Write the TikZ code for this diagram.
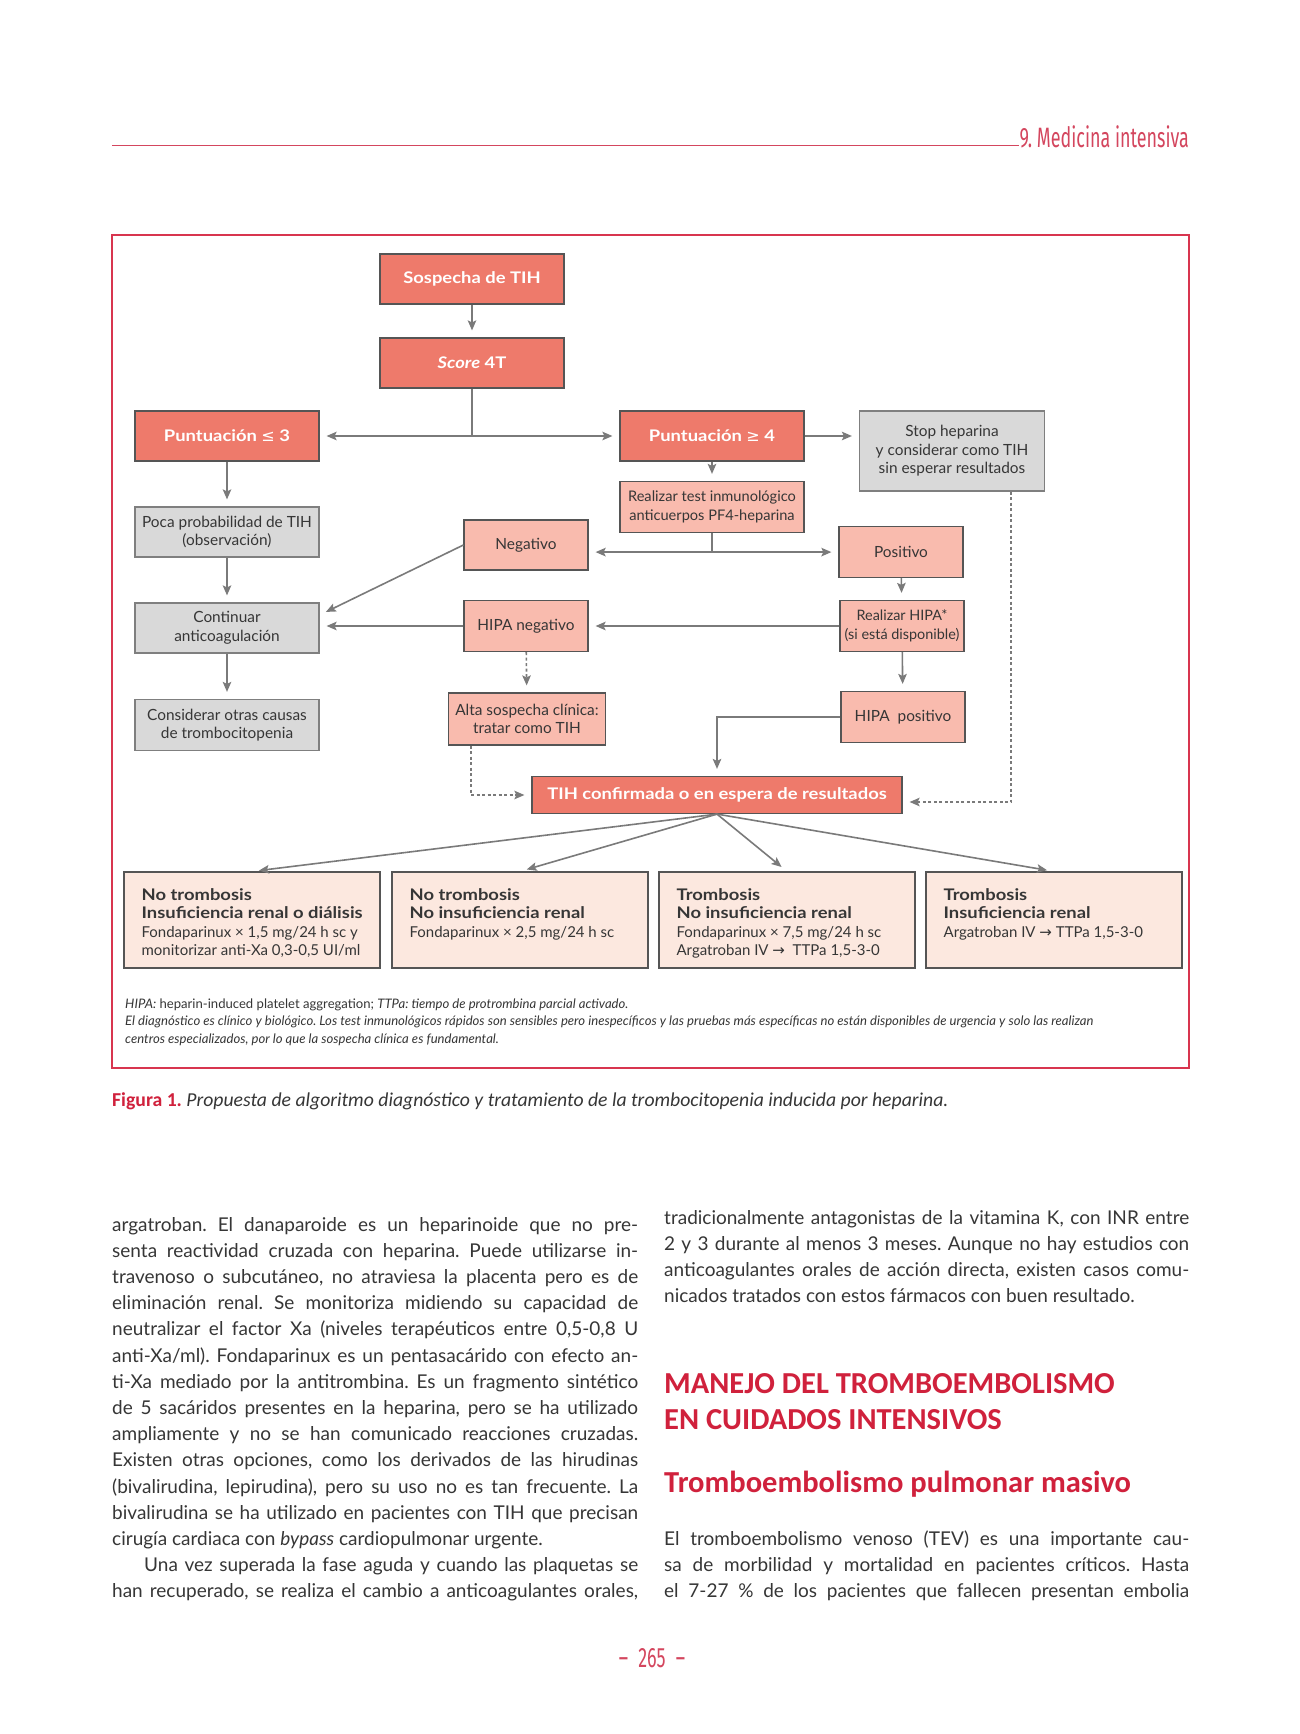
\documentclass[tikz,border=0pt]{standalone}
\usepackage{fontspec}
\setmainfont{Lato}
\newfontfamily\heavy{Lato}[FakeStretch=1.15]
\newfontfamily\capfont{Carlito}
\newfontfamily\symfont{DejaVu Sans}
\newfontfamily\runfont{Fira Sans}
\usetikzlibrary{arrows.meta,calc}
\definecolor{framered}{HTML}{D8354F}
\definecolor{headred}{HTML}{D0213C}
\definecolor{runred}{HTML}{D4465E}
\definecolor{hotfill}{HTML}{EE7A6B}
\definecolor{softfill}{HTML}{F9BBAE}
\definecolor{palefill}{HTML}{D9D9D9}
\definecolor{planfill}{HTML}{FCE8DF}
\definecolor{boxedge}{HTML}{555555}
\definecolor{paleedge}{HTML}{7F7F7F}
\definecolor{linkgrey}{HTML}{7A7A7A}
\definecolor{ink}{HTML}{363636}
\frenchspacing
\newcommand\bodyfont{\fontsize{19}{26.2}\selectfont}
\newcommand\planhead[1]{{\heavy\bfseries\fontsize{16}{18.5}\selectfont #1}}
\newcommand\sym[1]{{\symfont\mdseries #1}}
\tikzset{
  box/.style={draw=boxedge, line width=1.2pt, align=center, inner sep=2pt, text=ink,
    font=\fontsize{15.4}{18.5}\selectfont},
  hot/.style={box, fill=hotfill, text=white, font=\heavy\bfseries\fontsize{16}{18.5}\selectfont,
    minimum width=184pt, minimum height=50pt},
  soft/.style={box, fill=softfill},
  pale/.style={box, fill=palefill, draw=paleedge, minimum width=184pt, minimum height=50pt},
  plan/.style={draw=boxedge, line width=1.2pt, fill=planfill, minimum width=256pt, minimum height=96pt},
  plantext/.style={anchor=north west, inner sep=0pt, align=left, text=ink, font=\fontsize{15}{18.5}\selectfont},
  link/.style={draw=linkgrey, line width=1.6pt},
  arr/.style={link, -{Stealth[length=10pt,width=8.5pt,inset=2pt]}, shorten >=7pt},
  darr/.style={arr, dash pattern=on 3pt off 2.5pt},
  dlink/.style={link, dash pattern=on 3pt off 2.5pt},
  runtxt/.style={inner sep=0pt, text=runred, font=\runfont\fontsize{28}{28}\selectfont},
  para/.style={anchor=base west, inner sep=0pt, text=ink}
}
\begin{document}
\begin{tikzpicture}[x=1pt,y=-1pt]
\useasboundingbox[fill=white] (0,0) rectangle (1300,1734);

\coordinate (hdrL) at (112,145);
\node[runtxt, anchor=base east] (hdr) at (1189,147) {\scalebox{0.64}[1]{9. Medicina intensiva}};
\draw[runred, line width=1pt] (hdrL) -- (hdrL -| hdr.west);

\draw[framered, line width=2.4pt] (112,235) rectangle (1189,1068);

\node[hot] (sosp) at (472,279) {Sospecha de TIH};
\node[hot] (score) at (472,363) {\textit{Score} 4T};
\node[hot] (p3) at (227,436) {Puntuación \sym{≤} 3};
\node[hot] (p4) at (712,436) {Puntuación \sym{≥} 4};
\node[pale, minimum width=185pt, minimum height=80pt] (stop) at (952,451) {Stop heparina\\y considerar como TIH\\sin esperar resultados};
\node[soft, minimum width=184pt, minimum height=51pt, font=\fontsize{14.6}{18.5}\selectfont] (test) at (712,507) {Realizar test inmunológico\\anticuerpos PF4-heparina};
\node[pale] (poca) at (227,532) {Poca probabilidad de TIH\\(observación)};
\node[soft, minimum width=124pt, minimum height=50pt] (neg) at (526,545) {Negativo};
\node[soft, minimum width=124pt, minimum height=51pt] (pos) at (901,552) {Positivo};
\node[pale] (cont) at (227,628) {Continuar\\anticoagulación};
\node[soft, minimum width=124pt, minimum height=51pt] (hneg) at (526,626) {HIPA negativo};
\node[soft, minimum width=124pt, minimum height=51pt, inner xsep=0pt, font=\fontsize{14.4}{18.5}\selectfont] (rhipa) at (902,626) {Realizar HIPA*\\(si está disponible)};
\node[pale, minimum height=51pt] (cons) at (227,725) {Considerar otras causas\\de trombocitopenia};
\node[soft, minimum width=157pt, minimum height=52pt] (alta) at (527,719) {Alta sospecha clínica:\\tratar como TIH};
\node[soft, minimum width=124pt, minimum height=51pt] (hpos) at (903,717) {HIPA~~positivo};
\node[hot, minimum width=370pt, minimum height=37pt] (conf) at (717,795) {TIH confirmada o en espera de resultados};

\node[plan] (b1) at (252,920) {};
\node[plan] (b2) at (520,920) {};
\node[plan] (b3) at (787,920) {};
\node[plan] (b4) at (1054,920) {};
\node[plantext] (b1t) at ($(b1.north west)+(18,17)$) {\planhead{No trombosis}\\\planhead{Insuficiencia renal o diálisis}\\Fondaparinux × 1,5 mg/24 h sc y\\monitorizar anti-Xa 0,3-0,5 UI/ml};
\node[plantext] (b2t) at ($(b2.north west)+(18,17)$) {\planhead{No trombosis}\\\planhead{No insuficiencia renal}\\Fondaparinux × 2,5 mg/24 h sc};
\node[plantext] (b3t) at ($(b3.north west)+(18,17)$) {\planhead{Trombosis}\\\planhead{No insuficiencia renal}\\Fondaparinux × 7,5 mg/24 h sc\\Argatroban IV \sym{→}~~TTPa 1,5-3-0};
\node[plantext] (b4t) at ($(b4.north west)+(18,17)$) {\planhead{Trombosis}\\\planhead{Insuficiencia renal}\\Argatroban IV \sym{→} TTPa 1,5-3-0};

\coordinate (j1) at (score.south |- p3.east);
\coordinate (j2) at ($(test.south)+(0,19)$);
\coordinate (altadrop) at ($(alta.south west)+(23,0)$);
\coordinate (stopdrop) at ($(stop.south east)+(-34,0)$);

\draw[arr] (sosp) -- (score);
\draw[link] (score.south) -- (j1);
\draw[arr] (j1) -- (p3.east);
\draw[arr] (j1) -- (p4.west);
\draw[arr] (p4.east) -- (p4.east -| stop.west);
\draw[arr] (p4) -- (test);
\draw[link] (test.south) -- (j2);
\draw[arr] (j2) -- (j2 -| neg.east);
\draw[arr] (j2) -- (j2 -| pos.west);
\draw[arr] (p3) -- (poca);
\draw[arr] (poca) -- (cont);
\draw[arr] (cont) -- (cons);
\draw[arr] (neg.west) -- (cont.8);
\draw[arr] (hneg.west) -- (hneg.west -| cont.east);
\draw[arr] (rhipa.west) -- (rhipa.west -| hneg.east);
\draw[arr] (pos) -- (rhipa);
\draw[arr] (rhipa) -- (hpos);
\draw[darr] (hneg) -- (alta);
\draw[arr] (hpos.west) -| (conf.north);
\draw[darr] (altadrop) |- (conf.west);
\draw[darr] (stopdrop) |- ($(conf.east)+(0,7)$);
\foreach \b in {b1,b2,b3,b4}
  \draw[arr] (conf.south) -- (\b.north);

\node[para, font=\fontsize{13.1}{17.5}\selectfont] (notes) at (125,1008) {\parbox[t]{1060pt}{\textit{HIPA:} heparin-induced platelet aggregation; \textit{TTPa: tiempo de protrombina parcial activado.}\\
\textit{El diagnóstico es clínico y biológico. Los test inmunológicos rápidos son sensibles pero inespecíficos y las pruebas más específicas no están disponibles de urgencia y solo las realizan}\\
\textit{centros especializados, por lo que la sospecha clínica es fundamental.}}};

\node[para, font=\capfont\fontsize{19.7}{22}\selectfont] (cap) at (112,1106) {\textcolor{headred}{\bfseries Figura 1.} \textit{Propuesta de algoritmo diagnóstico y tratamiento de la trombocitopenia inducida por heparina.}};

\node[para] (colL) at (112,1231) {\parbox[t]{526pt}{\bodyfont\hbadness=10000
argatroban. El danaparoide es un heparinoide que no pre-\linebreak
senta reactividad cruzada con heparina. Puede utilizarse in-\linebreak
travenoso o subcutáneo, no atraviesa la placenta pero es de\linebreak
eliminación renal. Se monitoriza midiendo su capacidad de\linebreak
neutralizar el factor Xa (niveles terapéuticos entre 0,5-0,8 U\linebreak
anti-Xa/ml). Fondaparinux es un pentasacárido con efecto an-\linebreak
ti-Xa mediado por la antitrombina. Es un fragmento sintético\linebreak
de 5 sacáridos presentes en la heparina, pero se ha utilizado\linebreak
ampliamente y no se han comunicado reacciones cruzadas.\linebreak
Existen otras opciones, como los derivados de las hirudinas\linebreak
(bivalirudina, lepirudina), pero su uso no es tan frecuente. La\linebreak
bivalirudina se ha utilizado en pacientes con TIH que precisan\linebreak
cirugía cardiaca con \textit{bypass} cardiopulmonar urgente.\par
\parfillskip=0pt
\hspace*{32pt}Una vez superada la fase aguda y cuando las plaquetas se\linebreak
han recuperado, se realiza el cambio a anticoagulantes orales,\par}};

\node[para] (colR) at (664,1224) {\parbox[t]{525pt}{\bodyfont\hbadness=10000
tradicionalmente antagonistas de la vitamina K, con INR entre\linebreak
2 y 3 durante al menos 3 meses. Aunque no hay estudios con\linebreak
anticoagulantes orales de acción directa, existen casos comu-\linebreak
nicados tratados con estos fármacos con buen resultado.}};

\node[para, text=headred, font=\capfont\bfseries\fontsize{30.5}{36}\selectfont] (h1) at (664,1393) {\parbox[t]{600pt}{MANEJO DEL TROMBOEMBOLISMO\\EN CUIDADOS INTENSIVOS}};
\node[para, text=headred, font=\capfont\bfseries\fontsize{30.5}{36}\selectfont] (h2) at (664,1492) {Tromboembolismo pulmonar masivo};

\node[para] (colR2) at (664,1545) {\parbox[t]{525pt}{\bodyfont\hbadness=10000\parfillskip=0pt
El tromboembolismo venoso (TEV) es una importante cau-\linebreak
sa de morbilidad y mortalidad en pacientes críticos. Hasta\linebreak
el 7-27~\% de los pacientes que fallecen presentan embolia\par}};

\node[runtxt, anchor=base] (folio) at (652,1667) {\scalebox{0.64}[1]{–\hspace{16pt}265\hspace{16pt}–}};
\end{tikzpicture}
\end{document}
